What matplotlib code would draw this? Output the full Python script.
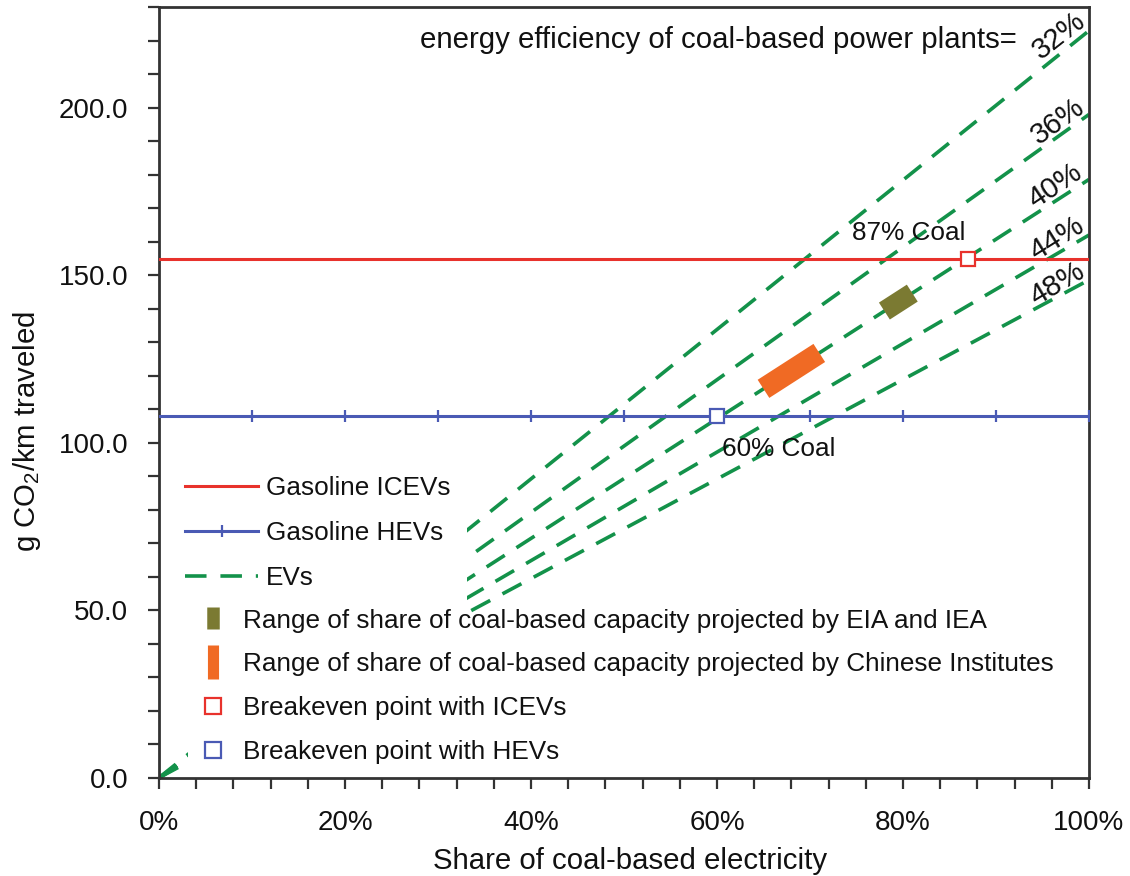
import matplotlib
matplotlib.use("Agg")
import matplotlib.pyplot as plt
from matplotlib.lines import Line2D
from matplotlib.patches import Rectangle
from matplotlib.ticker import MultipleLocator, FixedLocator, FuncFormatter

plt.rcParams['font.family'] = ['Liberation Sans', 'DejaVu Sans']
plt.rcParams['mathtext.fontset'] = 'custom'
plt.rcParams['mathtext.rm'] = 'Liberation Sans'
plt.rcParams['mathtext.it'] = 'Liberation Sans:italic'
plt.rcParams['lines.scale_dashes'] = False

# ---- data ----
efficiency_labels = ["32%", "36%", "40%", "44%", "48%"]
ev_at_full_coal = [223.0, 198.0, 178.6, 162.0, 148.6]   # g CO2/km when share of coal = 100%
coal_share_ends = [0.0, 1.0]
icev_emission = 155.0
hev_emission = 108.0
hev_shares = [0.0, 0.1, 0.2, 0.3, 0.4, 0.5, 0.6, 0.7, 0.8, 0.9, 1.0]
eia_iea_range = [0.78, 0.81]
chinese_range = [0.65, 0.71]
breakeven_icev_share = 0.87
breakeven_hev_share = 0.60

RED = '#e8322c'
BLUE = '#4a5ab4'
GREEN = '#13924a'
OLIVE = '#7b7a32'
ORANGE = '#f06a24'
TXT = '#111111'
FS_LEG = 18.8
FS_TICK = 20
FS_BIG = 21.2

fig = plt.figure(figsize=(11.3, 8.76), dpi=100)
ax = fig.add_axes([0.1407, 0.1122, 0.8230, 0.8795])
ax.set_xlim(0, 1)
ax.set_ylim(0, 230)

# EV lines: visible near origin and from one third of coal share onward
for v in ev_at_full_coal:
    for clip_x0, clip_w in [(0.0, 0.031), (0.331, 0.669)]:
        ln, = ax.plot(coal_share_ends, [0.0, v], color=GREEN, lw=2.6,
                      dashes=(15.5, 10), zorder=2)
        ln.set_clip_path(Rectangle((clip_x0, 0), clip_w, 230, transform=ax.transData))

# gasoline vehicles
ax.plot(coal_share_ends, [icev_emission] * 2, color=RED, lw=2.2, zorder=3)
ax.plot(hev_shares, [hev_emission] * len(hev_shares), color=BLUE, lw=2.2,
        marker='|', ms=9, mew=1.6, markevery=slice(1, None), zorder=3)

# projected coal-capacity ranges along the 40% efficiency line
k40 = ev_at_full_coal[2]
ax.plot(eia_iea_range, [k40 * x for x in eia_iea_range], color=OLIVE, lw=14.5,
        solid_capstyle='butt', zorder=4)
ax.plot(chinese_range, [k40 * x for x in chinese_range], color=ORANGE, lw=15.5,
        solid_capstyle='butt', zorder=4)

# breakeven points
ax.plot([breakeven_icev_share], [icev_emission], 's', ms=10.5, mfc='white',
        mec=RED, mew=1.6, zorder=5)
ax.plot([breakeven_hev_share], [hev_emission], 's', ms=10.5, mfc='white',
        mec=BLUE, mew=1.6, zorder=5)

# annotations
ax.text(0.281, 217.8, "energy efficiency of coal-based power plants=", fontsize=FS_BIG,
        ha='left', va='baseline', color=TXT)
label_pos = [(0.968, 221.5, 38), (0.966, 196.0, 36), (0.964, 176.5, 34),
             (0.966, 161.0, 32), (0.966, 147.4, 31)]
for lab, (lx, ly, rot) in zip(efficiency_labels, label_pos):
    ax.text(lx, ly, lab, fontsize=FS_BIG, rotation=rot, ha='center', va='center',
            rotation_mode='anchor', color=TXT)
ax.text(0.745, 162.6, f"{breakeven_icev_share:.0%} Coal", fontsize=FS_LEG,
        ha='left', va='center', color=TXT)
ax.text(0.605, 98.2, f"{breakeven_hev_share:.0%} Coal", fontsize=FS_LEG,
        ha='left', va='center', color=TXT)

# axes styling
for sp in ax.spines.values():
    sp.set_linewidth(2.0)
    sp.set_color('#333333')
ax.xaxis.set_major_locator(FixedLocator([0, 0.2, 0.4, 0.6, 0.8, 1.0]))
ax.xaxis.set_minor_locator(MultipleLocator(0.04))
ax.xaxis.set_major_formatter(FuncFormatter(lambda x, p: f"{x*100:.0f}%"))
ax.yaxis.set_major_locator(MultipleLocator(50))
ax.yaxis.set_minor_locator(MultipleLocator(10))
ax.yaxis.set_major_formatter(FuncFormatter(lambda y, p: f"{y:.1f}"))
ax.tick_params(which='both', direction='out', length=8, width=1.6, color='#333333',
               labelsize=FS_TICK, labelcolor=TXT, top=False, right=False)
ax.tick_params(axis='y', which='both', pad=14)
ax.tick_params(axis='x', which='both', pad=15.5)
ax.set_xlabel("Share of coal-based electricity", fontsize=FS_BIG, color=TXT)
ax.set_ylabel("g CO$_2$/km traveled", fontsize=FS_BIG, color=TXT)
ax.xaxis.set_label_coords(0.506, -0.0895)
ax.yaxis.set_label_coords(-0.1247, 0.449)

# legends
h1 = [Line2D([], [], color=RED, lw=2.2),
      Line2D([], [], color=BLUE, lw=2.2, marker='|', ms=9, mew=1.6),
      Line2D([], [], color=GREEN, lw=2.6, dashes=(15.5, 10))]
leg1 = ax.legend(h1, ["Gasoline ICEVs", "Gasoline HEVs", "EVs"], loc='upper left',
                 bbox_to_anchor=(0.028, 0.391), frameon=False, fontsize=FS_LEG,
                 handlelength=2.8, handletextpad=0.3, labelspacing=0.8,
                 borderpad=0, borderaxespad=0, numpoints=1, labelcolor=TXT)
ax.add_artist(leg1)
h2 = [Line2D([], [], ls='none', marker='|', ms=16.5, mew=9.0, color=OLIVE),
      Line2D([], [], ls='none', marker='|', ms=24, mew=8.0, color=ORANGE),
      Line2D([], [], ls='none', marker='s', ms=11, mfc='white', mec=RED, mew=1.6),
      Line2D([], [], ls='none', marker='s', ms=11, mfc='white', mec=BLUE, mew=1.6)]
leg2 = ax.legend(h2, ["Range of share of coal-based capacity projected by EIA and IEA",
                      "Range of share of coal-based capacity projected by Chinese Institutes",
                      "Breakeven point with ICEVs",
                      "Breakeven point with HEVs"],
                 loc='upper left', bbox_to_anchor=(0.044, 0.2196), frameon=False,
                 fontsize=FS_LEG, handlelength=1.0, handletextpad=0.65, labelspacing=0.76,
                 borderpad=0, borderaxespad=0, numpoints=1, labelcolor=TXT)

fig.savefig("out.png", dpi=100)
